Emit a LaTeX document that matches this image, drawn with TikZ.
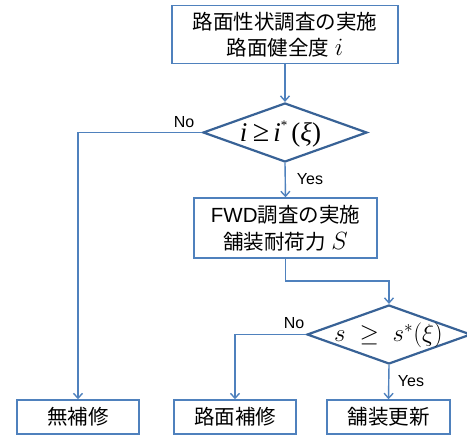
\documentclass[tikz,border=0pt]{standalone}
\usepackage{fontspec}
\setmainfont{Liberation Sans}
\newfontfamily\cjk{Noto Sans CJK JP}
\newfontfamily\tms{Liberation Serif}
\usetikzlibrary{shapes.geometric,arrows.meta}
\definecolor{boxblue}{RGB}{79,129,189}
\definecolor{dblue}{RGB}{56,98,150}
\begin{document}
\begin{tikzpicture}[x=1pt,y=-1pt,
  box/.style={draw=boxblue,line width=1.4pt,inner sep=0pt,align=center,
    font=\fontsize{20.5}{26.5}\selectfont},
  dec/.style={draw=dblue,line width=2.2pt,shape=diamond,inner sep=0pt,
    minimum width=164pt,minimum height=59pt},
  mtxt/.style={font=\fontsize{23}{26}\selectfont,inner sep=0pt},
  lab/.style={font=\fontsize{16}{18}\selectfont,inner sep=0pt},
  arr/.style={draw=boxblue,line width=1.4pt,-{Straight Barb[length=5pt,width=9pt]}}]
\useasboundingbox (0,0) rectangle (467,439);
% boxes
\node[box,minimum width=226pt,minimum height=58pt] (top) at (285,34.5)
  {{\cjk 路面性状調査の実施}\\{\cjk 路面健全度} {\fontsize{26}{26}\selectfont$i$}};
\node[dec] (d1) at (285,132.5) {};
\node[mtxt] (t1) at (280.5,134) {\fontsize{27}{28}\tms\itshape i\kern0.2em\upshape{\fontsize{30}{30}\selectfont≥}\kern0.15em\itshape i\raisebox{0.45em}{\upshape\fontsize{13}{13}\selectfont *}\kern0.15em\upshape(\itshape ξ\upshape)};
\node[box,minimum width=183pt,minimum height=60pt] (fwd) at (285.5,228)
  {FWD{\cjk 調査の実施}\\{\cjk 舗装耐荷力} {\fontsize{27}{27}\selectfont$S$}};
\node[dec] (d2) at (389,334.5) {};
\node[mtxt] (t2) at (388.5,335) {$s \;\geq\; s^{*}(\xi)$};
\node[box,minimum width=122pt,minimum height=34pt] (b1) at (78,417) {\cjk 無補修};
\node[box,minimum width=122pt,minimum height=34pt] (b2) at (235,417) {\cjk 路面補修};
\node[box,minimum width=123pt,minimum height=34pt] (b3) at (388.5,417) {\cjk 舗装更新};
% connectors
\draw[arr] (top.south) -- (d1.north);
\draw[arr] (d1.south) -- (fwd.north);
\draw[arr] (d1.west) -| (b1.north);
\coordinate (c1) at (285.5,281);
\coordinate (c2) at (389,281);
\draw[arr] (fwd.south) -- (c1) -- (c2) -- (d2.north);
\draw[arr] (d2.west) -| (b2.north);
\draw[arr] (d2.south) -- (b3.north);
% labels
\node[lab] (y1) at (310,179) {Yes};
\node[lab] (n1) at (184,122) {No};
\node[lab] (n2) at (294,323) {No};
\node[lab] (y2) at (411,381) {Yes};
\end{tikzpicture}
\end{document}
